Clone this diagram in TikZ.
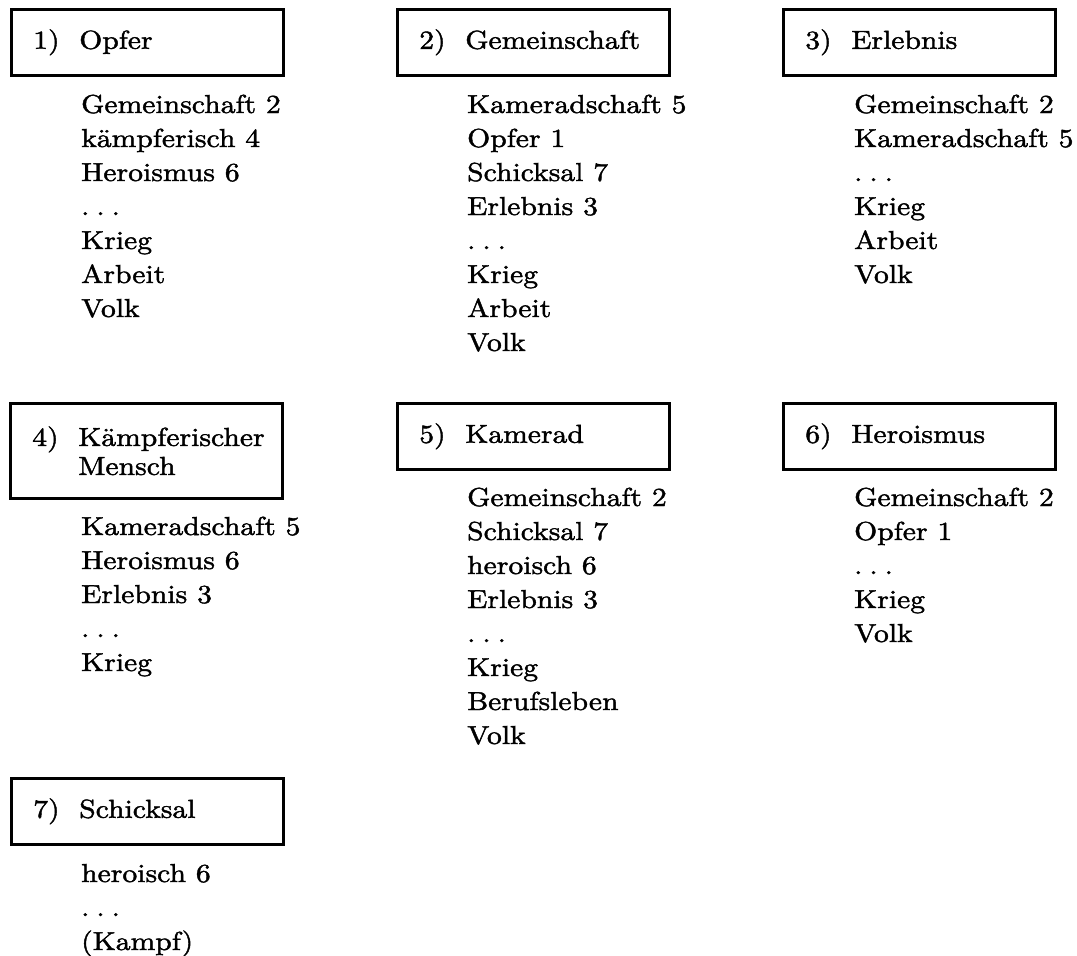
\documentclass[tikz,border=0pt]{standalone}
\usepackage{fontspec}
\setmainfont{lmroman10-regular.otf}[FakeStretch=1.14,FakeBold=1.6]

\tikzset{
  titlebox/.style={draw, line width=2.6pt, anchor=north west,
    minimum width=272pt, minimum height=66pt, text width=228pt,
    inner xsep=22pt, align=left, font=\fontsize{26}{29}\selectfont},
  entry/.style={anchor=base west, inner sep=0pt, font=\fontsize{26}{34}\selectfont}
}
\newcommand{\nr}[1]{\makebox[46pt][l]{#1}}
\newcommand{\pkt}{.\hspace{7pt}.\hspace{7pt}.}

\begin{document}
\begin{tikzpicture}[x=1pt,y=-1pt]
  \useasboundingbox (0,0) rectangle (1077,956);

  \begin{scope}[shift={(10,8)}]
    \node[titlebox] (b1) at (0,0) {\nr{1)}Opfer};
    \foreach \w [count=\i] in {Gemeinschaft 2, kämpferisch 4, Heroismus 6, \pkt, Krieg, Arbeit, Volk} {
      \node[entry] (e1-\i) at (71,71+34*\i) {\w};
    }
  \end{scope}

  \begin{scope}[shift={(396,8)}]
    \node[titlebox] (b2) at (0,0) {\nr{2)}Gemeinschaft};
    \foreach \w [count=\i] in {Kameradschaft 5, Opfer 1, Schicksal 7, Erlebnis 3, \pkt, Krieg, Arbeit, Volk} {
      \node[entry] (e2-\i) at (71,71+34*\i) {\w};
    }
  \end{scope}

  \begin{scope}[shift={(782,8)}]
    \node[titlebox] (b3) at (0,0) {\nr{3)}Erlebnis};
    \foreach \w [count=\i] in {Gemeinschaft 2, Kameradschaft 5, \pkt, Krieg, Arbeit, Volk} {
      \node[entry] (e3-\i) at (72,71+34*\i) {\w};
    }
  \end{scope}

  \begin{scope}[shift={(9,402)}]
    \node[titlebox, minimum height=95pt] (b4) at (0,0) {\nr{4)}\mbox{Kämpferischer}\\\nr{}Mensch};
    \foreach \w [count=\i] in {Kameradschaft 5, Heroismus 6, Erlebnis 3, \pkt, Krieg} {
      \node[entry] (e4-\i) at (72,99+34*\i) {\w};
    }
  \end{scope}

  \begin{scope}[shift={(396,402)}]
    \node[titlebox] (b5) at (0,0) {\nr{5)}Kamerad};
    \foreach \w [count=\i] in {Gemeinschaft 2, Schicksal 7, heroisch 6, Erlebnis 3, \pkt, Krieg, Berufsleben, Volk} {
      \node[entry] (e5-\i) at (71,70+34*\i) {\w};
    }
  \end{scope}

  \begin{scope}[shift={(782,402)}]
    \node[titlebox] (b6) at (0,0) {\nr{6)}Heroismus};
    \foreach \w [count=\i] in {Gemeinschaft 2, Opfer 1, \pkt, Krieg, Volk} {
      \node[entry] (e6-\i) at (72,70+34*\i) {\w};
    }
  \end{scope}

  \begin{scope}[shift={(10,777)}]
    \node[titlebox] (b7) at (0,0) {\nr{7)}Schicksal};
    \foreach \w [count=\i] in {heroisch 6, \pkt, (Kampf)} {
      \node[entry] (e7-\i) at (71,71+34*\i) {\w};
    }
  \end{scope}
\end{tikzpicture}
\end{document}
